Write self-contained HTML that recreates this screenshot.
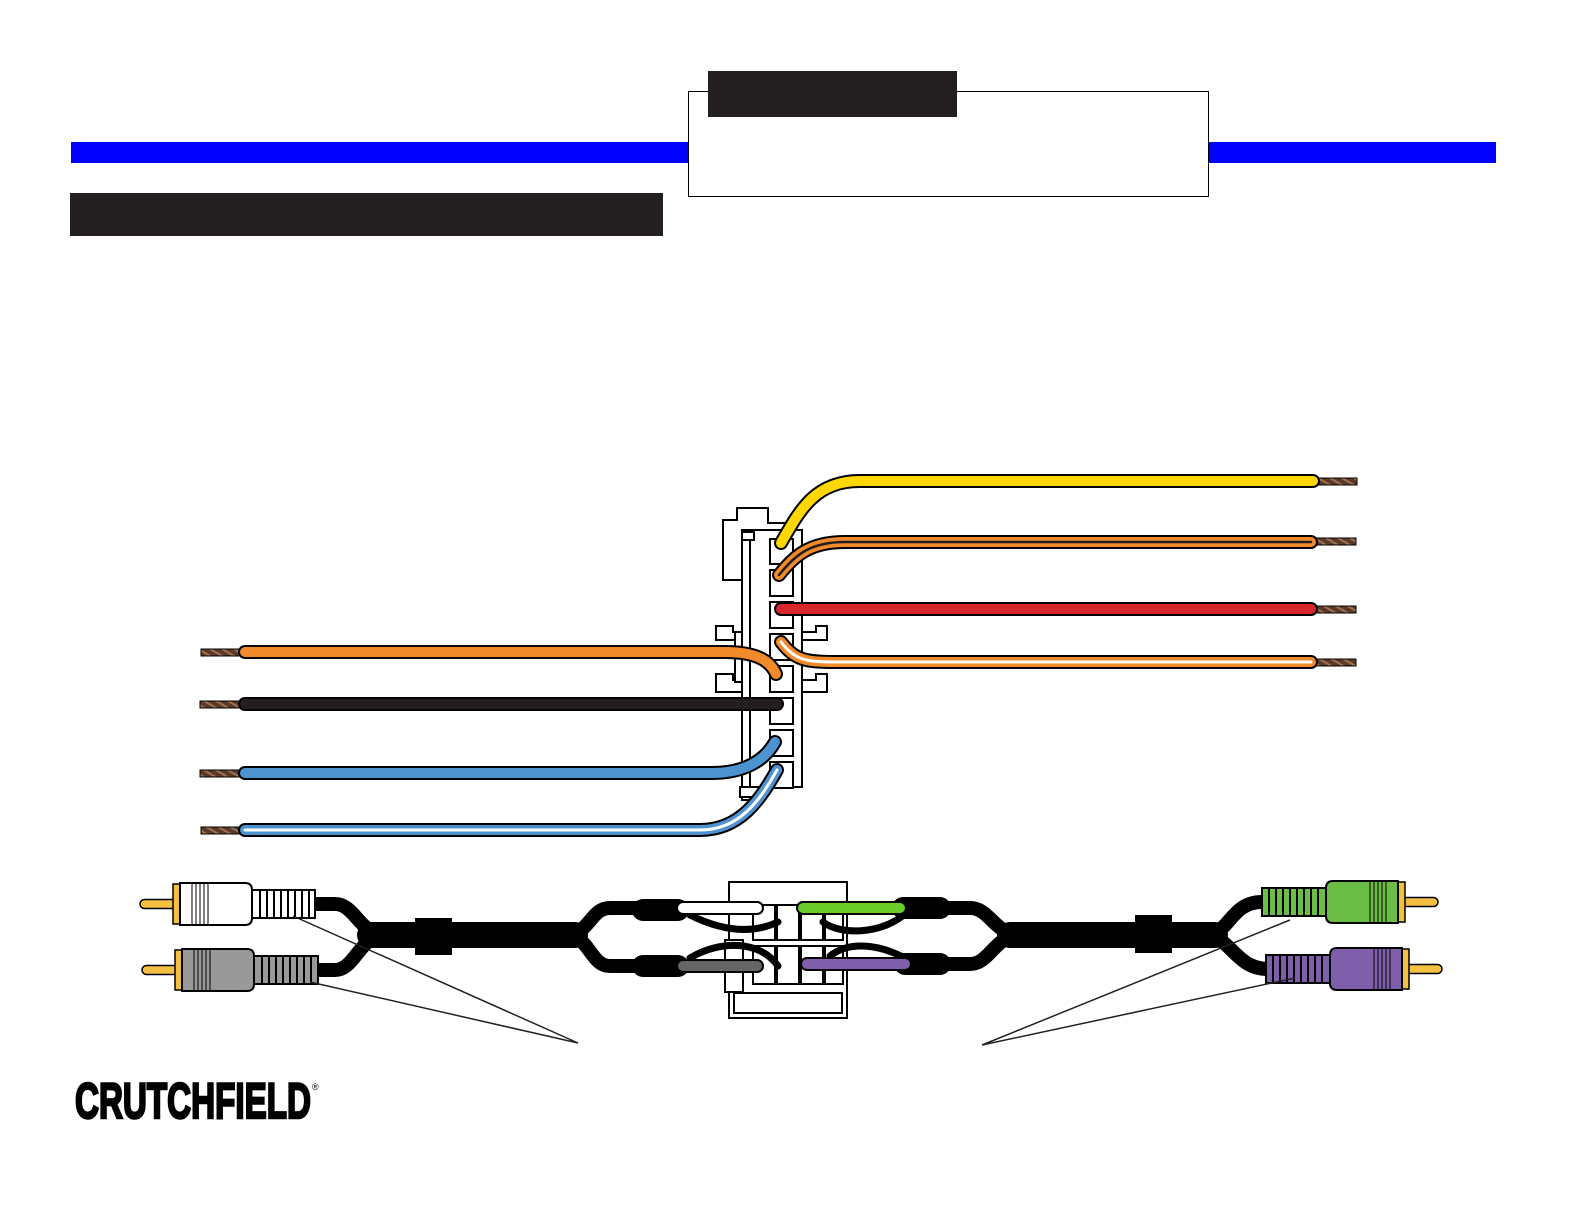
<!DOCTYPE html>
<html><head><meta charset="utf-8"><style>
html,body{margin:0;padding:0;background:#fff;}
svg{display:block;}
</style></head><body>
<svg width="1584" height="1224" viewBox="0 0 1584 1224" xmlns="http://www.w3.org/2000/svg">
<defs>
<g id="plug">
  <rect x="0" y="-4.5" width="38" height="9" rx="4.5" fill="#f3c042" stroke="#000" stroke-width="1.5"/>
  <rect x="33" y="-20" width="7" height="40" fill="#f3c042" stroke="#000" stroke-width="1.5"/>
</g>
<pattern id="cu" width="6" height="6" patternUnits="userSpaceOnUse" patternTransform="rotate(30)">
  <rect width="6" height="6" fill="#5a3a28"/><rect width="6" height="2" fill="#a07050"/>
</pattern>
</defs>

<!-- header -->
<rect x="71" y="142" width="1425" height="21" fill="#0000ff"/>
<rect x="688.5" y="91.5" width="520" height="105" fill="#fff" stroke="#000" stroke-width="1"/>
<rect x="708" y="71" width="249" height="46" fill="#231f20"/>
<rect x="70" y="193" width="593" height="43" fill="#231f20"/>

<!-- connector housing -->
<g fill="#fff" stroke="#000" stroke-width="2">
  <path d="M723 520 H737 V508 H768 V523 H787 V580 H723 Z"/>
  <path d="M716 626 H733 V632 H816 V626 H827 V640 H800 V680 H816 V674 H827 V692 H716 V674 H733 V680 H740 V640 H716 Z"/>
  <rect x="735" y="632" width="20" height="50"/>
  <rect x="742" y="530" width="60" height="257"/>
  <rect x="742" y="530" width="8" height="270"/>
  <rect x="742" y="532" width="12" height="8"/>
  <rect x="740" y="787" width="20" height="10"/>
</g>
<g fill="#fff" stroke="#000" stroke-width="2">
  <rect x="770" y="539" width="23" height="25"/>
  <rect x="770" y="570" width="23" height="26"/>
  <rect x="770" y="602" width="23" height="26"/>
  <rect x="770" y="634" width="23" height="26"/>
  <rect x="770" y="666" width="23" height="26"/>
  <rect x="770" y="698" width="23" height="26"/>
  <rect x="770" y="730" width="23" height="26"/>
  <rect x="770" y="762" width="23" height="26"/>
</g>

<!-- bare ends -->
<g fill="url(#cu)" stroke="#000" stroke-width="1">
  <rect x="1313" y="478" width="44" height="7"/>
  <rect x="1311" y="538" width="45" height="7"/>
  <rect x="1311" y="606" width="45" height="7"/>
  <rect x="1311" y="659" width="45" height="7"/>
  <rect x="201" y="649" width="44" height="7"/>
  <rect x="200" y="701" width="45" height="7"/>
  <rect x="200" y="770" width="45" height="7"/>
  <rect x="201" y="827" width="44" height="7"/>
</g>

<g fill="none" stroke-linecap="round">
  <path d="M781 543 C800 510 815 481 860 481 H1313" stroke="#000" stroke-width="14"/>
  <path d="M781 543 C800 510 815 481 860 481 H1313" stroke="#ffd700" stroke-width="10"/>
  <path d="M779 575 C795 555 810 542 845 542 H1311" stroke="#000" stroke-width="14"/>
  <path d="M779 575 C795 555 810 542 845 542 H1311" stroke="#f08a2a" stroke-width="10"/>
  <path d="M779 575 C795 555 810 542 845 542 H1311" stroke="#231f20" stroke-width="2.5"/>
  <path d="M781 609 H1311" stroke="#000" stroke-width="14"/>
  <path d="M781 609 H1311" stroke="#d9262e" stroke-width="10"/>
  <path d="M781 642 C795 660 805 662 835 662 H1311" stroke="#000" stroke-width="14"/>
  <path d="M781 642 C795 660 805 662 835 662 H1311" stroke="#f08a2a" stroke-width="10"/>
  <path d="M781 642 C795 660 805 662 835 662 H1311" stroke="#fff" stroke-width="3"/>
  <path d="M245 652 H725 C755 652 770 660 776 674" stroke="#000" stroke-width="14"/>
  <path d="M245 652 H725 C755 652 770 660 776 674" stroke="#f08a2a" stroke-width="10"/>
  <path d="M245 704 H777" stroke="#000" stroke-width="14"/>
  <path d="M245 704 H777" stroke="#231f20" stroke-width="10"/>
  <path d="M245 773 H712 C745 773 765 760 775 742" stroke="#000" stroke-width="14"/>
  <path d="M245 773 H712 C745 773 765 760 775 742" stroke="#4d93d0" stroke-width="10"/>
  <path d="M245 830 H700 C740 830 760 800 777 770" stroke="#000" stroke-width="14"/>
  <path d="M245 830 H700 C740 830 760 800 777 770" stroke="#4d93d0" stroke-width="10"/>
  <path d="M245 830 H700 C740 830 760 800 777 770" stroke="#fff" stroke-width="3"/>
</g>

<!-- bottom adapter connector -->
<g fill="#fff" stroke="#000" stroke-width="2">
  <rect x="729" y="882" width="118" height="136"/>
  <rect x="725" y="940" width="18" height="52"/>
  <rect x="753" y="905" width="22" height="35"/>
  <rect x="777" y="905" width="22" height="35"/>
  <rect x="801" y="905" width="22" height="35"/>
  <rect x="825" y="905" width="18" height="35"/>
  <rect x="753" y="946" width="22" height="38"/>
  <rect x="777" y="946" width="22" height="38"/>
  <rect x="801" y="946" width="22" height="38"/>
  <rect x="825" y="946" width="18" height="38"/>
  <rect x="734" y="993" width="108" height="20"/>
</g>

<g fill="none" stroke="#000" stroke-linecap="round" stroke-linejoin="round">
  <path d="M315 904 H335 C355 904 360 935 385 935 H565 C590 935 590 908 610 908 H680" stroke-width="14"/>
  <path d="M318 970 H335 C355 970 360 935 385 935" stroke-width="14"/>
  <path d="M565 935 C590 935 590 966 610 966 H680" stroke-width="14"/>
  <path d="M370 935 H575" stroke-width="26"/>
  <path d="M945 908 H970 C990 908 995 935 1020 935 H1205 C1230 935 1230 902 1262 902" stroke-width="14"/>
  <path d="M945 964 H970 C990 964 995 935 1020 935" stroke-width="14"/>
  <path d="M1205 935 C1230 935 1235 969 1268 969" stroke-width="14"/>
  <path d="M1010 935 H1215" stroke-width="26"/>
  <path d="M643 910 H678" stroke-width="22"/>
  <path d="M643 966 H678" stroke-width="22"/>
  <path d="M903 908 H940" stroke-width="22"/>
  <path d="M905 964 H940" stroke-width="22"/>
  <path d="M690 915 C720 930 750 935 778 922" stroke-width="7"/>
  <path d="M690 958 C720 940 760 940 778 966" stroke-width="7"/>
  <path d="M823 922 C840 935 880 935 905 914" stroke-width="7"/>
  <path d="M830 956 C850 940 880 945 905 958" stroke-width="7"/>
</g>
<rect x="415" y="918" width="37" height="37" fill="#000"/>
<rect x="1135" y="915" width="37" height="38" fill="#000"/>

<g fill="none" stroke-linecap="round">
  <path d="M683 908 H757" stroke="#000" stroke-width="14"/>
  <path d="M683 908 H757" stroke="#fff" stroke-width="10"/>
  <path d="M683 966 H757" stroke="#000" stroke-width="14"/>
  <path d="M683 966 H757" stroke="#666" stroke-width="10"/>
  <path d="M803 908 H900" stroke="#000" stroke-width="14"/>
  <path d="M803 908 H900" stroke="#6bcc2a" stroke-width="10"/>
  <path d="M807 964 H905" stroke="#000" stroke-width="14"/>
  <path d="M807 964 H905" stroke="#7f5fab" stroke-width="10"/>
</g>

<!-- RCA plugs -->
<g transform="translate(140,904)">
  <use href="#plug"/>
  <path d="M40 -21 H105 Q112 -21 112 -14 V14 Q112 21 105 21 H40 Z" fill="#fff" stroke="#000" stroke-width="2"/>
  <path d="M52 -20 V20 M56 -20 V20 M60 -20 V20 M64 -20 V20 M68 -20 V20" stroke="#000" stroke-width="1"/>
  <path d="M112 -14 H175 V14 H112 Z" fill="#fff" stroke="#000" stroke-width="2"/>
  <path d="M120 -14 V14 M127 -14 V14 M134 -14 V14 M141 -14 V14 M148 -14 V14 M155 -14 V14 M162 -14 V14 M169 -14 V14" stroke="#000" stroke-width="2"/>
</g>
<g transform="translate(142,970)">
  <use href="#plug"/>
  <path d="M40 -21 H105 Q112 -21 112 -14 V14 Q112 21 105 21 H40 Z" fill="#999" stroke="#000" stroke-width="2"/>
  <path d="M52 -20 V20 M56 -20 V20 M60 -20 V20 M64 -20 V20 M68 -20 V20" stroke="#000" stroke-width="1"/>
  <path d="M112 -14 H176 V14 H112 Z" fill="#999" stroke="#000" stroke-width="2"/>
  <path d="M120 -14 V14 M127 -14 V14 M134 -14 V14 M141 -14 V14 M148 -14 V14 M155 -14 V14 M162 -14 V14 M169 -14 V14" stroke="#000" stroke-width="2"/>
</g>
<g transform="translate(1438,902) scale(-1,1)">
  <use href="#plug"/>
  <path d="M40 -21 H105 Q112 -21 112 -14 V14 Q112 21 105 21 H40 Z" fill="#6cbd45" stroke="#000" stroke-width="2"/>
  <path d="M52 -20 V20 M56 -20 V20 M60 -20 V20 M64 -20 V20 M68 -20 V20" stroke="#000" stroke-width="1"/>
  <path d="M112 -14 H176 V14 H112 Z" fill="#6cbd45" stroke="#000" stroke-width="2"/>
  <path d="M120 -14 V14 M127 -14 V14 M134 -14 V14 M141 -14 V14 M148 -14 V14 M155 -14 V14 M162 -14 V14 M169 -14 V14" stroke="#000" stroke-width="2"/>
</g>
<g transform="translate(1442,969) scale(-1,1)">
  <use href="#plug"/>
  <path d="M40 -21 H105 Q112 -21 112 -14 V14 Q112 21 105 21 H40 Z" fill="#7f5fab" stroke="#000" stroke-width="2"/>
  <path d="M52 -20 V20 M56 -20 V20 M60 -20 V20 M64 -20 V20 M68 -20 V20" stroke="#000" stroke-width="1"/>
  <path d="M112 -14 H176 V14 H112 Z" fill="#7f5fab" stroke="#000" stroke-width="2"/>
  <path d="M120 -14 V14 M127 -14 V14 M134 -14 V14 M141 -14 V14 M148 -14 V14 M155 -14 V14 M162 -14 V14 M169 -14 V14" stroke="#000" stroke-width="2"/>
</g>

<g stroke="#222" stroke-width="1.5">
  <line x1="293" y1="916" x2="578" y2="1043"/>
  <line x1="310" y1="982" x2="578" y2="1043"/>
  <line x1="1290" y1="920" x2="982" y2="1045"/>
  <line x1="1295" y1="978" x2="982" y2="1045"/>
</g>

<!-- logo -->
<text x="75" y="1118" font-family="Liberation Sans, sans-serif" font-weight="bold" font-size="50" textLength="236" lengthAdjust="spacingAndGlyphs" fill="#000" stroke="#000" stroke-width="2.5">CRUTCHFIELD</text>
<text x="312" y="1090" font-family="Liberation Sans, sans-serif" font-size="9" fill="#000">®</text>
</svg>
</body></html>
